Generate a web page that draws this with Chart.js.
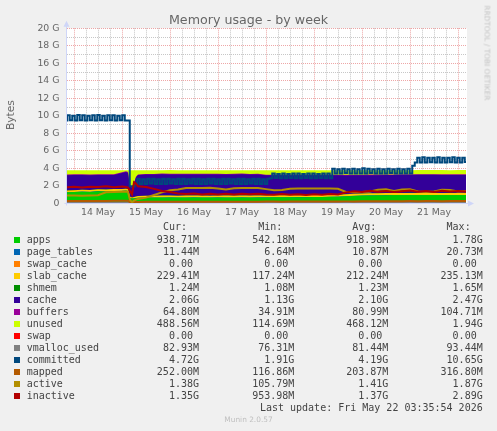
<!DOCTYPE html>
<html><head><meta charset="utf-8">
<script src="https://cdn.jsdelivr.net/npm/chart.js@4.4.1/dist/chart.umd.min.js"></script>
<style>
html,body{margin:0;padding:0;background:#F0F0F0;}
#wrap{position:relative;width:497px;height:431px;overflow:hidden;background:#F0F0F0;}
#c{position:absolute;left:0;top:0;}
.t{position:absolute;white-space:pre;font-family:'DejaVu Sans',sans-serif;}
.row{position:absolute;left:0;width:497px;height:12px;line-height:12px;font-family:'DejaVu Sans Mono',monospace;font-size:10px;color:#444;}
.row span{position:absolute;top:0;white-space:pre;}
.row span.sq{width:6px;height:6px;top:3px;left:14px;}
</style></head><body>
<div id="wrap">
<canvas id="c" width="497" height="431"></canvas>
<div class="t" style="left:0;width:497px;top:12px;line-height:16px;text-align:center;font-size:12.67px;color:#666;">Memory usage - by week</div>
<div class="t" style="left:10.7px;top:115px;transform:translate(-50%,-50%) rotate(-90deg);font-size:10.67px;color:#666;line-height:12px;">Bytes</div>
<div class="t" style="left:487.3px;top:53.3px;transform:translate(-50%,-50%) rotate(90deg);font-size:7.4px;color:#C4C4C4;line-height:9px;">RRDTOOL / TOBI OETIKER</div>
<div class="t" style="left:0;width:497px;top:415px;line-height:10px;text-align:center;font-size:7.4px;color:#C0C0C0;">Munin 2.0.57</div>
</div>
<script>
// ---- sample times (hours since 13 May 00:00) ----
const hours = [20,24,28,32,36,40,44,48,50,51,52,53,54,55,56,60,64,68,72,76,80,84,88,92,96,100,104,108,112,116,120,124,128,132,136,140,144,148,152,156,160,164,168,172,176,180,184,188,192,196,200,204,208,212,216,220];

// ---- stacked areas (GB) ----
const apps = [1.25,1.28,1.33,1.30,1.38,1.35,1.40,1.42,1.45,1.40, 0.60,0.55,0.56,0.60,0.63, 0.65,0.66,0.66,0.67,0.66,0.66,0.67,0.66,0.66,0.67,0.66,0.66,0.67,0.66,0.67, 0.67,0.68,0.68,0.69,0.70,0.70,0.71,0.72,0.74,0.76, 0.80,0.84,0.88,0.90,0.92,0.93,0.94,0.94,0.95,0.95,0.94,0.95,0.94,0.95,0.94,0.94];
const pageTables = [0.012,0.012,0.012,0.012,0.012,0.012,0.012,0.012,0.012,0.012, 0.007,0.007,0.008,0.009,0.010, 0.011,0.011,0.011,0.011,0.011,0.011,0.011,0.011,0.011,0.011,0.011,0.011,0.011,0.011,0.011, 0.011,0.011,0.011,0.011,0.011,0.011,0.011,0.011,0.011,0.011, 0.011,0.011,0.011,0.011,0.011,0.011,0.011,0.011,0.011,0.011,0.011,0.011,0.011,0.011,0.011,0.011];
const swapCache = [0,0,0,0,0,0,0,0,0,0, 0,0,0,0,0, 0,0,0,0,0,0,0,0,0,0,0,0,0,0,0, 0,0,0,0,0,0,0,0,0,0, 0,0,0,0,0,0,0,0,0,0,0,0,0,0,0,0];
const slabCache = [0.21,0.21,0.21,0.21,0.21,0.21,0.21,0.21,0.21,0.21, 0.13,0.12,0.14,0.17,0.19, 0.20,0.20,0.21,0.21,0.20,0.21,0.21,0.21,0.20,0.21,0.21,0.21,0.22,0.21,0.21, 0.21,0.22,0.22,0.21,0.22,0.22,0.22,0.22,0.22,0.22, 0.22,0.23,0.23,0.23,0.22,0.23,0.23,0.23,0.23,0.23,0.23,0.23,0.23,0.23,0.23,0.23];
const shmem = [0.0012,0.0012,0.0012,0.0012,0.0012,0.0012,0.0012,0.0012,0.0012,0.0012, 0.0011,0.0011,0.0011,0.0012,0.0012, 0.0012,0.0012,0.0012,0.0012,0.0012,0.0012,0.0012,0.0012,0.0012,0.0012,0.0012,0.0012,0.0012,0.0012,0.0012, 0.0012,0.0012,0.0012,0.0012,0.0012,0.0012,0.0012,0.0012,0.0012,0.0012, 0.0012,0.0012,0.0012,0.0012,0.0012,0.0012,0.0012,0.0012,0.0012,0.0012,0.0012,0.0012,0.0012,0.0012,0.0012,0.0012];
const cache = [1.73,1.72,1.67,1.68,1.62,1.65,1.62,1.81,1.89,1.85, 1.15,1.13,1.55,2.20,2.40, 2.42,2.41,2.43,2.40,2.42,2.41,2.40,2.42,2.43,2.41,2.40,2.42,2.41,2.40,2.41, 2.30,2.28,2.28,2.27,2.26,2.26,2.25,2.24,2.22,2.20, 2.15,2.12,2.08,2.07,2.06,2.06,2.05,2.06,2.05,2.06,2.07,2.06,2.06,2.05,2.06,2.06];
const buffers = [0.09,0.09,0.09,0.09,0.09,0.09,0.09,0.10,0.10,0.10, 0.04,0.04,0.05,0.06,0.07, 0.08,0.08,0.08,0.08,0.08,0.08,0.08,0.08,0.08,0.08,0.08,0.08,0.08,0.08,0.08, 0.08,0.08,0.08,0.08,0.08,0.07,0.07,0.07,0.07,0.07, 0.07,0.07,0.07,0.07,0.07,0.07,0.065,0.065,0.065,0.065,0.065,0.065,0.065,0.065,0.065,0.065];
const unused = [0.49,0.47,0.47,0.49,0.47,0.47,0.45,0.23,0.12,0.21, 1.85,1.93,1.47,0.74,0.48, 0.42,0.42,0.39,0.42,0.41,0.41,0.41,0.40,0.40,0.40,0.42,0.40,0.39,0.42,0.40, 0.51,0.51,0.51,0.52,0.51,0.52,0.52,0.52,0.52,0.52, 0.53,0.51,0.51,0.50,0.50,0.48,0.49,0.48,0.48,0.49,0.48,0.48,0.49,0.48,0.49,0.49];
const swap = [0,0,0,0,0,0,0,0,0,0, 0,0,0,0,0, 0,0,0,0,0,0,0,0,0,0,0,0,0,0,0, 0,0,0,0,0,0,0,0,0,0, 0,0,0,0,0,0,0,0,0,0,0,0,0,0,0,0];

// ---- lines (GB) ----
const vmallocUsed = [0.090,0.090,0.091,0.090,0.092,0.091,0.090,0.093,0.092,0.090, 0.077,0.076,0.077,0.078,0.079, 0.081,0.081,0.081,0.082,0.081,0.081,0.081,0.082,0.081,0.081,0.081,0.081,0.082,0.081,0.081, 0.081,0.081,0.082,0.081,0.081,0.081,0.082,0.081,0.081,0.081, 0.082,0.082,0.083,0.083,0.082,0.083,0.083,0.083,0.082,0.083,0.083,0.083,0.083,0.083,0.083,0.083];
const mapped = [0.25,0.26,0.25,0.27,0.26,0.27,0.28,0.29,0.30,0.28, 0.15,0.12,0.13,0.15,0.16, 0.17,0.18,0.18,0.19,0.19,0.18,0.19,0.19,0.18,0.19,0.19,0.18,0.19,0.19,0.19, 0.20,0.20,0.19,0.20,0.20,0.20,0.21,0.20,0.21,0.21, 0.22,0.22,0.23,0.23,0.24,0.24,0.23,0.24,0.25,0.24,0.25,0.25,0.24,0.25,0.25,0.25];
const active = [0.88,0.90,0.86,0.90,0.92,1.25,1.30,1.32,1.35,1.30, 0.40,0.11,0.30,0.42,0.50, 0.65,0.95,1.25,1.50,1.58,1.75,1.76,1.75,1.77,1.70,1.58,1.72,1.76,1.75,1.76, 1.62,1.50,1.52,1.66,1.68,1.70,1.68,1.70,1.68,1.66, 1.30,1.25,1.28,1.35,1.55,1.60,1.42,1.58,1.60,1.35,1.30,1.36,1.55,1.52,1.36,1.38];
const inactive = [1.82,1.90,1.80,1.88,1.85,1.95,1.84,1.92,1.86,1.80, 1.40,1.00,2.40,2.25,1.95, 1.85,1.65,1.40,1.30,1.12,1.05,1.12,1.00,1.10,1.02,1.08,1.00,1.10,1.03,1.08, 1.00,0.98,1.05,0.97,1.02,0.96,1.04,0.98,1.05,1.02, 1.25,1.38,1.30,1.42,1.32,1.40,1.30,1.38,1.45,1.33,1.40,1.30,1.42,1.34,1.40,1.35];

// committed: read every 1.25 h from hour 20
const committed = [
 9.45,10.05,9.5,10.0,9.45,10.1,9.5,10.05,9.45,10.0,9.5,10.05,9.45,10.1,9.5,10.0,9.45,10.05,9.5,10.05,9.45,10.0,9.5,10.05,9.45,
 9.45,1.95,1.91,2.2,
 2.8,2.2,2.75,2.2,2.8,2.25,2.8,2.2,2.75,2.2, 2.8,2.2,2.8,2.25,2.75,2.2,2.8,2.2,2.8,2.2, 2.75,2.25,2.8,2.2,2.8,2.2,2.75,2.2,2.8,2.25, 2.8,2.2,2.75,2.2,2.8,2.2,2.8,2.25,2.75,2.2, 2.8,2.2,2.8,2.2,2.75,2.25,2.8,2.2,2.8,2.2, 2.75,2.2,2.8,
 2.85,3.4,2.9,3.35,2.85,3.4,2.85,3.35,2.9,3.4, 2.85,3.4,2.85,3.35,2.9,3.4,2.85,3.4,2.85,3.35, 2.9,3.4,2.85,3.4,2.85,
 3.95,3.4,3.9,3.4,3.95,3.45,3.9,3.4,3.95,3.4, 3.9,3.4,4.0,3.4,3.95,3.45,3.9,3.4,3.95,3.4, 3.9,3.4,3.95,3.45,3.9,3.4,3.95,3.4,3.9,3.4, 3.95,3.4,
 4.3,4.65,
 5.2,4.65,5.25,4.65,5.2,4.7,5.2,4.65,5.25,4.65, 5.2,4.65,5.2,4.7,5.25,4.65,5.2,4.65,5.2,4.72
];
const commitHours = committed.map((_, i) => 20 + i * 1.25);

// ---- axis labels ----
const dayLabels = ['14 May','15 May','16 May','17 May','18 May','19 May','20 May','21 May'];
const yTickLabels = ['0','2 G','4 G','6 G','8 G','10 G','12 G','14 G','16 G','18 G','20 G'];

// ---- legend table ----
const legendNames = ['apps','page_tables','swap_cache','slab_cache','shmem','cache','buffers','unused','swap','vmalloc_used','committed','mapped','active','inactive'];
const legendCur = ['938.71M','11.44M','0.00','229.41M','1.24M','2.06G','64.80M','488.56M','0.00','82.93M','4.72G','252.00M','1.38G','1.35G'];
const legendMin = ['542.18M','6.64M','0.00','117.24M','1.08M','1.13G','34.91M','114.69M','0.00','76.31M','1.91G','116.86M','105.79M','953.98M'];
const legendAvg = ['918.98M','10.87M','0.00','212.24M','1.23M','2.10G','80.99M','468.12M','0.00','81.44M','4.19G','203.87M','1.41G','1.37G'];
const legendMax = ['1.78G','20.73M','0.00','235.13M','1.65M','2.47G','104.71M','1.94G','0.00','93.44M','10.65G','316.80M','1.87G','2.89G'];
const lastUpdate = 'Last update: Fri May 22 03:35:54 2026';

// ---- styles ----
const palette = {apps:'#00CC00',page_tables:'#0066B3',swap_cache:'#FF8000',slab_cache:'#FFCC00',shmem:'#008F00',cache:'#330099',buffers:'#990099',unused:'#CCFF00',swap:'#FF0000',vmalloc_used:'#808080',committed:'#00487D',mapped:'#B35A00',active:'#B38F00',inactive:'#B30000'};
const MAJOR = 'rgba(222,79,79,0.5)';
const MINOR = 'rgba(143,143,143,0.5)';
const TICKFONT = {family:'DejaVu Sans', size:9.33};

function pts(xs, ys){ return ys.map((y,i)=>({x:xs[i], y:y})); }

const areaDefs = [['apps',apps],['page_tables',pageTables],['swap_cache',swapCache],['slab_cache',slabCache],['shmem',shmem],['cache',cache],['buffers',buffers],['unused',unused],['swap',swap]];
const datasets = areaDefs.map(([name, vals]) => ({
  label:name, data:pts(hours, vals), backgroundColor:palette[name], borderColor:palette[name],
  borderWidth:0, pointRadius:0, fill:(name==='swap'||name==='swap_cache')?'-1':'origin', stack:'mem', order:100
}));
const lineDefs = [['vmalloc_used',hours,vmallocUsed,5],['committed',commitHours,committed,4],['mapped',hours,mapped,3],['active',hours,active,2],['inactive',hours,inactive,1]];
lineDefs.forEach(([name, xs, vals, ord]) => datasets.push({
  label:name, data:pts(xs, vals), borderColor:palette[name], backgroundColor:palette[name],
  borderWidth:2, pointRadius:0, fill:false, stack:'line_'+name, order:ord, tension:0,
  stepped: name === 'committed' ? 'middle' : false
}));

const xGrid = [];
for (let h = 24; h <= 216; h += 6) xGrid.push(h);

const muninPlugin = {
  id:'munin',
  beforeDraw(chart){
    const {ctx, chartArea:a} = chart;
    ctx.save(); ctx.fillStyle='#FFFFFF';
    ctx.fillRect(a.left, a.top, a.right-a.left, a.bottom-a.top);
    ctx.restore();
  },
  afterDraw(chart){
    const {ctx, chartArea:a} = chart;
    const x0 = Math.round(a.left) - 0.5;
    const y0 = Math.round(a.bottom) + 0.5;
    ctx.save();
    ctx.strokeStyle='#CFD6F8'; ctx.fillStyle='#CFD6F8'; ctx.lineWidth=1;
    ctx.beginPath(); ctx.moveTo(x0, y0+2); ctx.lineTo(x0, a.top-3); ctx.stroke();
    ctx.beginPath(); ctx.moveTo(x0, a.top-7.5); ctx.lineTo(x0-3, a.top-1.5); ctx.lineTo(x0+3, a.top-1.5); ctx.closePath(); ctx.fill();
    ctx.beginPath(); ctx.moveTo(x0-2, y0); ctx.lineTo(a.right+2, y0); ctx.stroke();
    ctx.beginPath(); ctx.moveTo(a.right+7, y0); ctx.lineTo(a.right+1, y0-3); ctx.lineTo(a.right+1, y0+3); ctx.closePath(); ctx.fill();
    ctx.restore();
  }
};

Chart.defaults.font.family = 'DejaVu Sans';
new Chart(document.getElementById('c'), {
  type:'line',
  data:{datasets:datasets},
  options:{
    responsive:false, animation:false, devicePixelRatio:1, events:[],
    layout:{padding:{left:0, top:28.3, right:30, bottom:207.7}},
    plugins:{legend:{display:false}, title:{display:false}, tooltip:{enabled:false}},
    elements:{line:{tension:0}, point:{radius:0}},
    scales:{
      x:{
        type:'linear', min:20.5, max:220.5, z:1,
        afterBuildTicks: s => { s.ticks = xGrid.map(v => ({value:v})); },
        afterFit: s => { s.height = 20; },
        grid:{ color: c => (c.tick && c.tick.value % 24 === 0) ? MAJOR : MINOR, lineWidth:1, drawTicks:false },
        border:{ display:false, dash:[1,1] },
        ticks:{ autoSkip:false, maxRotation:0, minRotation:0, padding:4, color:'#666', font:TICKFONT,
          callback: v => (v % 24 === 12) ? dayLabels[(v-36)/24] : '' }
      },
      y:{
        stacked:true, min:0, max:20, z:1,
        afterFit: s => { s.width = 67; },
        grid:{ color: c => (c.tick && c.tick.value % 2 === 0) ? MAJOR : MINOR, lineWidth:1, drawTicks:false },
        border:{ display:false, dash:[1,1] },
        ticks:{ stepSize:1, autoSkip:false, padding:7.5, color:'#666', font:TICKFONT,
          callback: v => (v % 2 === 0) ? yTickLabels[v/2] : '' }
      }
    }
  },
  plugins:[muninPlugin]
});

// ---- legend (HTML text) ----
const wrap = document.getElementById('wrap');
const colRights = [298, 202.7, 108.7, 14.3];
function addRow(center){
  const d = document.createElement('div'); d.className='row'; d.style.top=(center-6)+'px'; wrap.appendChild(d); return d;
}
function addSpan(row, text, styles){
  const s = document.createElement('span'); s.textContent = text; Object.assign(s.style, styles); row.appendChild(s); return s;
}
const hdr = addRow(227.3);
['Cur:','Min:','Avg:','Max:'].forEach((h,i)=>addSpan(hdr, h+'  ', {right:colRights[i]+'px'}));
legendNames.forEach((name, i) => {
  const r = addRow(240 + 12*i);
  const sq = addSpan(r, '', {background:palette[name]}); sq.className='sq';
  addSpan(r, name, {left:'26.7px'});
  [legendCur, legendMin, legendAvg, legendMax].forEach((arr, k) => {
    const v = arr[i]; const txt = /[0-9]$/.test(v) ? v + ' ' : v;
    addSpan(r, txt, {right:colRights[k]+'px'});
  });
});
const lu = addRow(408);
addSpan(lu, lastUpdate, {right:'14.3px'});
</script>
</body></html>
